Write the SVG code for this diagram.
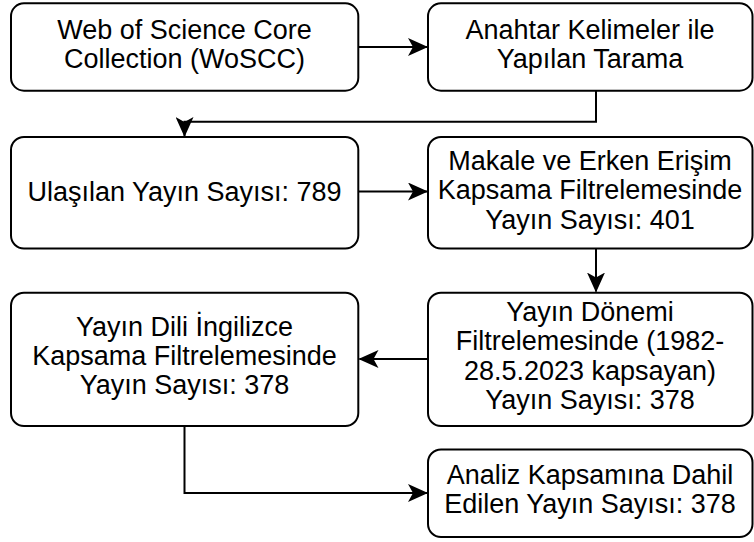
<svg xmlns="http://www.w3.org/2000/svg" width="754" height="542" viewBox="0 0 754 542">
<style>
.box{fill:#fff;stroke:#000;stroke-width:2}
.t{font-family:"Liberation Sans",Arial,Helvetica,sans-serif;font-size:27px;fill:#000;text-anchor:middle}
.c{fill:none;stroke:#000;stroke-width:2}
</style>
<defs>
<marker id="ah" viewBox="0 0 20 18" refX="19" refY="9" markerWidth="20" markerHeight="18" markerUnits="userSpaceOnUse" orient="auto">
<path d="M0,0 L20,9 L0,18 L5,9 Z" fill="#000"/>
</marker>
</defs>
<rect width="754" height="542" fill="#fff"/>
<g id="connectors">
<path class="c" d="M358.3,47 L427,47" marker-end="url(#ah)"/>
<path class="c" d="M596,90.7 L596,121.7 L184.5,121.7 L184.5,136" marker-end="url(#ah)"/>
<path class="c" d="M359,191.5 L427,191.5" marker-end="url(#ah)"/>
<path class="c" d="M596,249 L596,291.5" marker-end="url(#ah)"/>
<path class="c" d="M428,359 L359.5,359" marker-end="url(#ah)"/>
<path class="c" d="M184.5,426 L184.5,493 L427,493" marker-end="url(#ah)"/>
</g>
<g id="n1">
<rect class="box" x="11" y="3.3" width="347.3" height="87.4" rx="13"/>
<text class="t" x="184.5" y="38.5">Web of Science Core</text>
<text class="t" x="184.5" y="67.8">Collection (WoSCC)</text>
</g>
<g id="n2">
<rect class="box" x="428" y="3.3" width="324.5" height="87.4" rx="13"/>
<text class="t" x="590" y="38.5">Anahtar Kelimeler ile</text>
<text class="t" x="590" y="67.8">Yapılan Tarama</text>
</g>
<g id="n3">
<rect class="box" x="11" y="137" width="347.3" height="111.5" rx="13"/>
<text class="t" x="184.5" y="200.5">Ulaşılan Yayın Sayısı: 789</text>
</g>
<g id="n4">
<rect class="box" x="428" y="137" width="324.5" height="111.5" rx="13"/>
<text class="t" x="590" y="170">Makale ve Erken Erişim</text>
<text class="t" x="590" y="199.3">Kapsama Filtrelemesinde</text>
<text class="t" x="590" y="228.6">Yayın Sayısı: 401</text>
</g>
<g id="n5">
<rect class="box" x="11" y="292.7" width="347.3" height="133.3" rx="13"/>
<text class="t" x="184.5" y="335.5">Yayın Dili İngilizce</text>
<text class="t" x="184.5" y="364.8">Kapsama Filtrelemesinde</text>
<text class="t" x="184.5" y="394.1">Yayın Sayısı: 378</text>
</g>
<g id="n6">
<rect class="box" x="428" y="292.7" width="324.5" height="133.3" rx="13"/>
<text class="t" x="590" y="321">Yayın Dönemi</text>
<text class="t" x="590" y="350.3">Filtrelemesinde (1982-</text>
<text class="t" x="590" y="379.6">28.5.2023 kapsayan)</text>
<text class="t" x="590" y="408.9">Yayın Sayısı: 378</text>
</g>
<g id="n7">
<rect class="box" x="428" y="449.5" width="324.5" height="87.5" rx="13"/>
<text class="t" x="590" y="484">Analiz Kapsamına Dahil</text>
<text class="t" x="590" y="513.3">Edilen Yayın Sayısı: 378</text>
</g>
</svg>
